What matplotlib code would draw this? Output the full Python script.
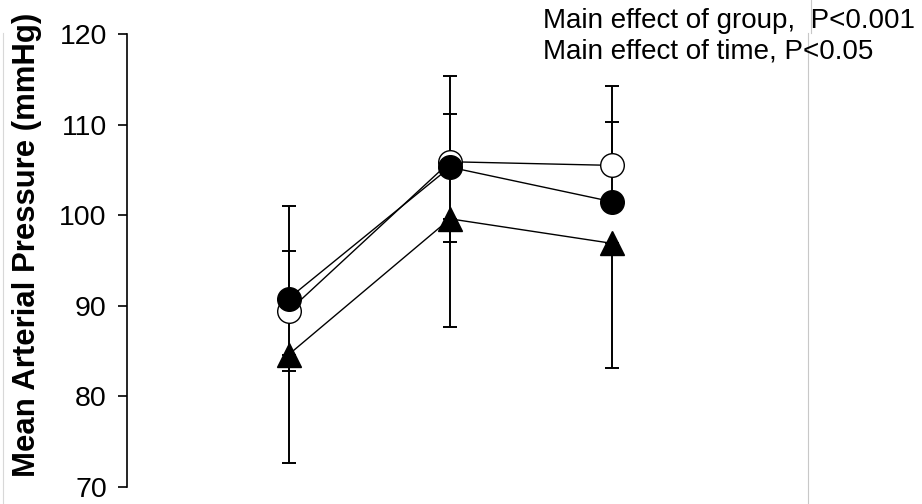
import matplotlib.pyplot as plt
import numpy as np

plt.rcParams['font.family'] = ['Liberation Sans', 'DejaVu Sans']

# time points
x = [1, 2, 3]

# group means (mmHg)
open_circ = [89.4, 105.9, 105.5]
filled_circ = [90.8, 105.3, 101.5]
triangle = [84.6, 99.6, 96.9]

# error bars: (lower, upper), 0 = not drawn
open_lo = [6.6, 0, 0]
open_hi = [6.6, 9.5, 8.8]
filled_lo = [0, 8.3, 0]
filled_hi = [10.2, 5.9, 8.8]
tri_lo = [11.9, 11.9, 13.8]
tri_hi = [0, 0, 0]

yticks = [70, 80, 90, 100, 110, 120]

fig = plt.figure(figsize=(9.22, 5.04), dpi=100)
ax = fig.add_axes([127/922, 1-487/504, (773-127)/922, (487-34)/504])


def bars(ys, lo, hi):
    for xi, yi, l, h in zip(x, ys, lo, hi):
        if l > 0:
            ax.errorbar([xi], [yi], yerr=[[l], [0]], fmt='none', ecolor='black',
                        elinewidth=1.4, capsize=5, capthick=1.4, zorder=1)
        if h > 0:
            ax.errorbar([xi], [yi], yerr=[[0], [h]], fmt='none', ecolor='black',
                        elinewidth=1.4, capsize=5, capthick=1.4, zorder=1)


bars(open_circ, open_lo, open_hi)
bars(filled_circ, filled_lo, filled_hi)
bars(triangle, tri_lo, tri_hi)

ax.plot(x, triangle, color='black', lw=1.0, marker='^', markersize=17,
        markerfacecolor='black', markeredgecolor='black', zorder=3)
ax.plot(x, open_circ, color='black', lw=1.0, marker='o', markersize=17,
        markerfacecolor='white', markeredgecolor='black', markeredgewidth=1.0, zorder=4)
ax.plot(x, filled_circ, color='black', lw=1.0, marker='o', markersize=17,
        markerfacecolor='black', markeredgecolor='black', zorder=5)

ax.set_xlim(0, 4)
ax.set_ylim(70, 120)
ax.set_yticks(yticks)
ax.tick_params(axis='y', labelsize=20.5, length=6.5, width=1.2, direction='out', pad=8)
ax.set_xticks([])
for s in ['top', 'right', 'bottom']:
    ax.spines[s].set_visible(False)
ax.spines['left'].set_linewidth(1.2)
ax.patch.set_alpha(0)

fig.text(27/922, 1-245/504, 'Mean Arterial Pressure (mmHg)', rotation=90, fontsize=22.4,
         fontweight='bold', ha='center', va='center')

fig.text(543/922, 1-21/504, 'Main effect of group,  P<0.001', fontsize=20,
         ha='left', va='center')
fig.text(543/922, 1-52/504, 'Main effect of time, P<0.05', fontsize=20,
         ha='left', va='center')

# faint crop borders
fig.add_artist(plt.Line2D([808/922, 808/922], [0, 1-33/504], color='#c8c8c8', lw=0.8))
fig.add_artist(plt.Line2D([811/922, 811/922], [1-33/504, 1], color='#c8c8c8', lw=0.8))
fig.add_artist(plt.Line2D([3/922, 3/922], [0, 1-33/504], color='#d8d8d8', lw=0.8))

fig.savefig('out.png', dpi=100)
